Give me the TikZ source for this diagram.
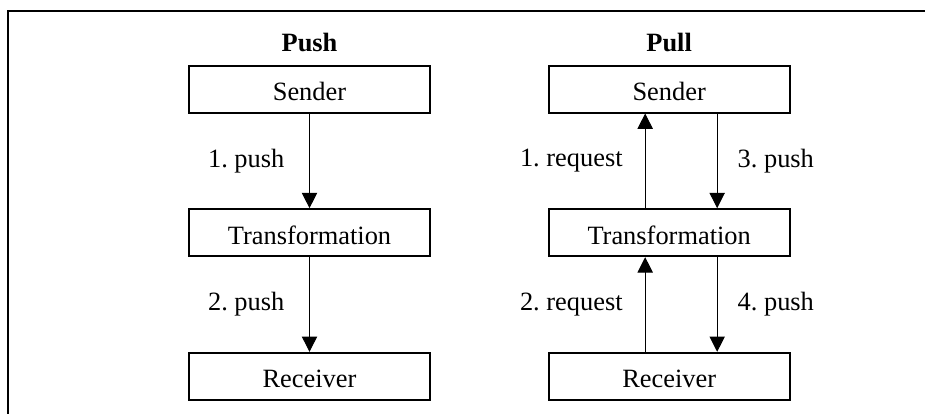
\documentclass[tikz,border=0pt]{standalone}
\usepackage{fontspec}
\setmainfont{Liberation Serif}
\usetikzlibrary{positioning}
\usetikzlibrary{arrows.meta}
\newcommand{\mainsize}{\fontsize{19.8pt}{23pt}\selectfont}
\frenchspacing

\begin{document}
\begin{tikzpicture}[
        x=0.75pt, y=-0.75pt,
        node distance=71pt and 87.5pt,
        every node/.style={font=\mainsize},
        box/.style={rectangle, draw=black, line width=1.5pt, minimum width=180.75pt, minimum height=35.25pt, text height=17pt, text depth=0pt, text centered},
        heading/.style={inner sep=0pt, font=\mainsize\bfseries},
        tag/.style={inner sep=0pt},
        arrow/.style={-{Triangle[length=11.5pt,width=11.5pt]}, line width=0.75pt}
        ]
        \useasboundingbox (0,0) rectangle (925,414);

        % Frame
        \draw[line width=1.5pt] (925,11) -- (8,11) -- (8,414);

        % Push side
        \node[box] (psend) at (309.5,89) {Sender};
        \node[box, below=of psend] (ptrans) {Transformation};
        \node[box, below=of ptrans] (precv) {Receiver};
        \node[heading, above=9pt of psend] (phead) {Push};

        % Pull side
        \node[box, right=of psend] (qsend) {Sender};
        \node[box, below=of qsend] (qtrans) {Transformation};
        \node[box, below=of qtrans] (qrecv) {Receiver};
        \node[heading, above=9pt of qsend] (qhead) {Pull};

        % Arrows
        \draw[arrow] (psend) -- (ptrans) node[tag, midway, left=18.5pt] {1. push};
        \draw[arrow] (ptrans) -- (precv) node[tag, midway, left=18.5pt] {2. push};
        \draw[arrow] ([xshift=-18pt]qtrans.north) -- ([xshift=-18pt]qsend.south) node[tag, midway, left=16.5pt] {1. request};
        \draw[arrow] ([xshift=36pt]qsend.south) -- ([xshift=36pt]qtrans.north) node[tag, midway, right=15pt] {3. push};
        \draw[arrow] ([xshift=-18pt]qrecv.north) -- ([xshift=-18pt]qtrans.south) node[tag, midway, left=16.5pt] {2. request};
        \draw[arrow] ([xshift=36pt]qtrans.south) -- ([xshift=36pt]qrecv.north) node[tag, midway, right=15pt] {4. push};

    \end{tikzpicture}
\end{document}
